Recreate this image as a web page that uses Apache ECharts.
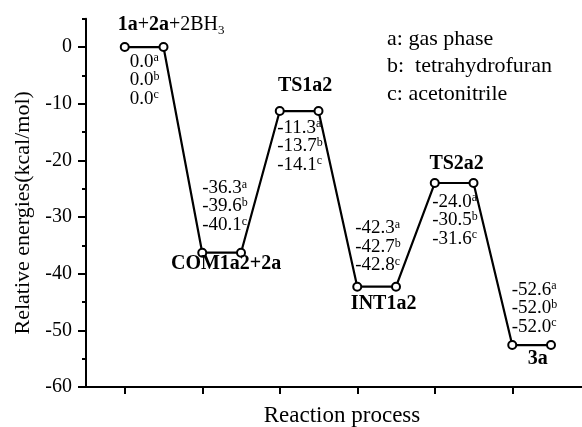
<!DOCTYPE html>
<html>
<head>
<meta charset="utf-8">
<script src="https://cdn.jsdelivr.net/npm/echarts@6/dist/echarts.min.js"></script>
<style>
  html, body { margin: 0; padding: 0; background: #fff; }
  #main { width: 582px; height: 427px; }
</style>
</head>
<body>
<div id="main"></div>
<script>
// levels along the reaction path
var levels = ['1a+2a+2BH3', 'COM1a2+2a', 'TS1a2', 'INT1a2', 'TS2a2', '3a'];
// relative energies, kcal/mol
var gasPhase = [0.0, -36.3, -11.3, -42.3, -24.0, -52.6];
var thf = [0.0, -39.6, -13.7, -42.7, -30.5, -52.0];
var acetonitrile = [0.0, -40.1, -14.1, -42.8, -31.6, -52.0];
var yTicks = [-60, -50, -40, -30, -20, -10, 0];
var xTicks = [1, 2, 3, 4, 5, 6];

// label placement (pixels from the middle of each level)
var nameOffsets = [[27, -22], [4.5, 11], [6, -25], [7, 17], [2.5, -19.5], [6, 13.5]];
var valueOffsets = [[-14.5, 33], [-19.5, -46.5], [-22, 35], [-21.5, -40], [-22, 37], [-20, -37]];

var serif = 'Liberation Serif';

var pathData = [];
levels.forEach(function (n, i) {
  pathData.push([xTicks[i], gasPhase[i]]);
  pathData.push([xTicks[i] + 0.5, gasPhase[i]]);
});

function nameText(n) {
  if (n === '1a+2a+2BH3') return '{b|1a}{n|+}{b|2a}{n|+2BH}{sub|3}';
  return '{b|' + n + '}';
}
function valueText(i) {
  function f(v) { return v.toFixed(1); }
  return '{v|' + f(gasPhase[i]) + '}{sup|a}\n' +
         '{v|' + f(thf[i]) + '}{sup|b}\n' +
         '{v|' + f(acetonitrile[i]) + '}{sup|c}';
}

var chart = echarts.init(document.getElementById('main'));
var option = {
  backgroundColor: '#fff',
  animation: false,
  grid: { left: 86, right: 0, top: 18.7, bottom: 40, containLabel: false, outerBoundsMode: 'none' },
  xAxis: {
    type: 'value',
    min: 0.5,
    max: 6.9,
    name: 'Reaction process',
    nameLocation: 'middle',
    nameGap: 17,
    nameTextStyle: { fontFamily: serif, fontSize: 23, color: '#000', padding: [0, 0, 0, 16] },
    axisLine: { onZero: false, lineStyle: { color: '#000', width: 2 } },
    axisTick: { customValues: xTicks, length: 7, lineStyle: { color: '#000', width: 2 } },
    axisLabel: { show: false },
    splitLine: { show: false }
  },
  yAxis: [{
    type: 'value',
    position: 'left',
    min: -60,
    max: 5,
    interval: 5,
    name: 'Relative energies(kcal/mol)',
    nameLocation: 'middle',
    nameGap: 51,
    nameTextStyle: { fontFamily: serif, fontSize: 22, color: '#000', padding: [0, 20, 0, 0] },
    axisLine: { onZero: false, lineStyle: { color: '#000', width: 2 } },
    axisTick: { length: 4, lineStyle: { color: '#000', width: 2 } },
    axisLabel: { customValues: yTicks, fontFamily: serif, fontSize: 20, color: '#000', margin: 14 },
    splitLine: { show: false }
  }, {
    type: 'value',
    position: 'left',
    min: -60,
    max: 5,
    interval: 5,
    axisLine: { show: false, onZero: false },
    axisTick: { customValues: yTicks, length: 8, lineStyle: { color: '#000', width: 2 } },
    axisLabel: { show: false },
    splitLine: { show: false }
  }],
  graphic: [{
    type: 'text',
    left: 387,
    top: 25,
    style: {
      text: 'a: gas phase\nb:  tetrahydrofuran\nc: acetonitrile',
      font: '22px "Liberation Serif"',
      lineHeight: 27.5,
      fill: '#000'
    }
  }],
  series: [{
    type: 'line',
    data: pathData,
    symbol: 'emptyCircle',
    symbolSize: 8,
    lineStyle: { color: '#000', width: 2.2 },
    itemStyle: { color: '#000', borderWidth: 1.2 },
    z: 3
  }, {
    type: 'scatter',
    symbolSize: 0,
    z: 4,
    itemStyle: { opacity: 1 },
    data: levels.map(function (n, i) {
      return { value: [xTicks[i] + 0.25, gasPhase[i]], label: { offset: nameOffsets[i], formatter: nameText(n) } };
    }),
    label: {
      show: true,
      position: 'inside',
      align: 'center',
      verticalAlign: 'middle',
      color: '#000',
      opacity: 1,
      textBorderWidth: 0,
      rich: {
        b: { fontFamily: serif, fontSize: 20, fontWeight: 'bold', color: '#000', lineHeight: 24 },
        n: { fontFamily: serif, fontSize: 20, color: '#000', lineHeight: 24 },
        sub: { fontFamily: serif, fontSize: 13, color: '#000', lineHeight: 10, verticalAlign: 'bottom' }
      }
    }
  }, {
    type: 'scatter',
    symbolSize: 0,
    z: 4,
    itemStyle: { opacity: 1 },
    data: levels.map(function (n, i) {
      return { value: [xTicks[i] + 0.25, gasPhase[i]], label: { offset: valueOffsets[i], formatter: valueText(i) } };
    }),
    label: {
      show: true,
      position: 'inside',
      align: 'left',
      verticalAlign: 'middle',
      color: '#000',
      opacity: 1,
      textBorderWidth: 0,
      rich: {
        v: { fontFamily: serif, fontSize: 19, color: '#000', lineHeight: 18.5 },
        sup: { fontFamily: serif, fontSize: 12, color: '#000', lineHeight: 5, verticalAlign: 'top' }
      }
    }
  }]
};
chart.setOption(option);
</script>
</body>
</html>
